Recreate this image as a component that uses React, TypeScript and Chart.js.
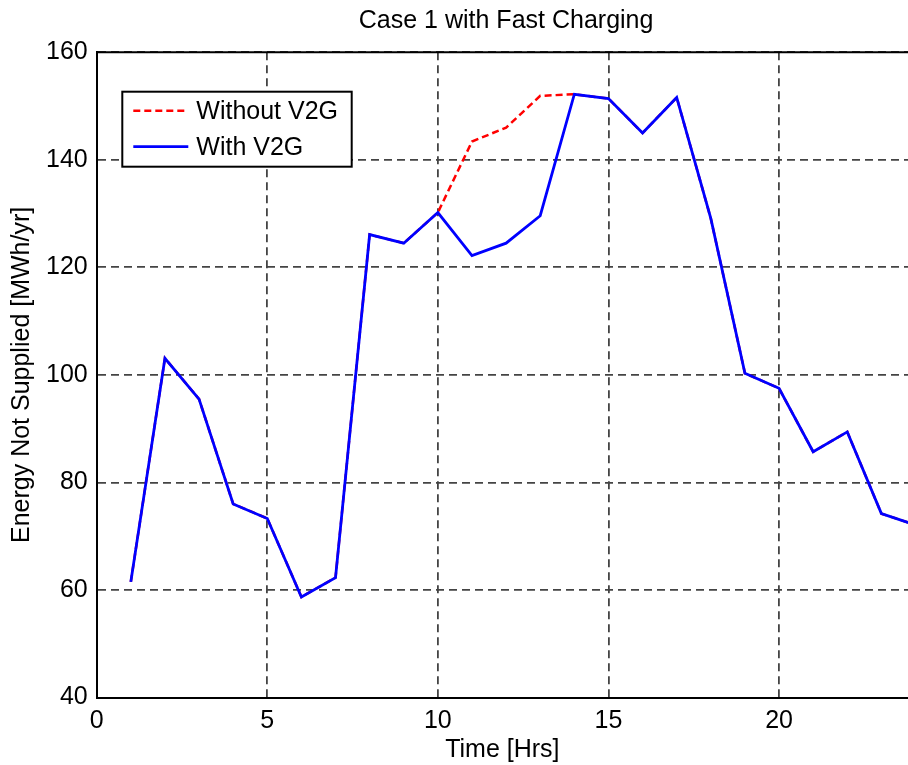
import React, { useEffect, useRef } from "react";
import { Chart, registerables } from "chart.js";

Chart.register(...registerables);

const hours = [1, 2, 3, 4, 5, 6, 7, 8, 9, 10, 11, 12, 13, 14, 15, 16, 17, 18, 19, 20, 21, 22, 23, 24];
const withoutV2G = [61.5, 103.1, 95.5, 76.0, 73.3, 58.7, 62.3, 126.1, 124.5, 130.2, 143.4, 146.0, 151.9, 152.2, 151.4, 145.0, 151.6, 129.1, 100.3, 97.5, 85.7, 89.4, 74.2, 72.1];
const withV2G = [61.5, 103.1, 95.5, 76.0, 73.3, 58.7, 62.3, 126.1, 124.5, 130.2, 122.2, 124.5, 129.6, 152.2, 151.4, 145.0, 151.6, 129.1, 100.3, 97.5, 85.7, 89.4, 74.2, 72.1];
const seriesNames = ["Without V2G", "With V2G"];
const titleText = "Case 1 with Fast Charging";
const xTitle = "Time [Hrs]";
const yTitle = "Energy Not Supplied [MWh/yr]";

const FONT = "'Liberation Sans', Arial, Helvetica, sans-serif";

const decorPlugin = {
  id: "decor",
  afterDraw(chart: any) {
    const { ctx, chartArea } = chart;
    const xs = chart.scales.x;
    ctx.save();
    // top border
    ctx.strokeStyle = "#000";
    ctx.lineWidth = 2;
    ctx.beginPath();
    ctx.moveTo(chartArea.left, chartArea.top);
    ctx.lineTo(chartArea.right, chartArea.top);
    ctx.stroke();
    // title
    ctx.fillStyle = "#000";
    ctx.font = `25px ${FONT}`;
    ctx.textAlign = "center";
    ctx.textBaseline = "middle";
    ctx.fillText(titleText, xs.getPixelForValue(12), chartArea.top - 31);
    // legend
    const lx = chartArea.left + 25.6;
    const ly = chartArea.top + 39.4;
    const lw = 229.4;
    const lh = 75;
    ctx.fillStyle = "#fff";
    ctx.fillRect(lx, ly, lw, lh);
    ctx.strokeStyle = "#000";
    ctx.lineWidth = 2;
    ctx.strokeRect(lx, ly, lw, lh);
    const ds = chart.data.datasets;
    const rows = [ly + 19, ly + 55];
    for (let i = 0; i < 2; i++) {
      const d = ds[i];
      ctx.strokeStyle = d.borderColor;
      ctx.lineWidth = d.borderWidth;
      ctx.setLineDash(d.borderDash || []);
      ctx.beginPath();
      ctx.moveTo(lx + 11, rows[i]);
      ctx.lineTo(lx + 66, rows[i]);
      ctx.stroke();
      ctx.setLineDash([]);
      ctx.fillStyle = "#000";
      ctx.textAlign = "left";
      ctx.textBaseline = "middle";
      ctx.font = `25px ${FONT}`;
      ctx.fillText(d.label, lx + 74, rows[i] + 1);
    }
    ctx.restore();
  },
};

export default function App() {
  const ref = useRef<HTMLCanvasElement | null>(null);
  useEffect(() => {
    if (!ref.current) return;
    const chart = new Chart(ref.current, {
      type: "line",
      data: {
        datasets: [
          {
            label: seriesNames[0],
            data: hours.map((h, i) => ({ x: h, y: withoutV2G[i] })),
            borderColor: "#ff0000",
            borderWidth: 2.5,
            borderDash: [7, 4],
            pointRadius: 0,
            tension: 0,
            order: 1,
          },
          {
            label: seriesNames[1],
            data: hours.map((h, i) => ({ x: h, y: withV2G[i] })),
            borderColor: "#0000ff",
            borderWidth: 2.8,
            pointRadius: 0,
            tension: 0,
            order: 0,
          },
        ],
      },
      options: {
        responsive: false,
        animation: false,
        layout: { padding: { top: 52.3, left: 0, right: 0, bottom: 0 } },
        plugins: { legend: { display: false }, title: { display: false }, tooltip: { enabled: false } },
        scales: {
          x: {
            type: "linear",
            min: 0,
            max: 23.78,
            ticks: { stepSize: 5, includeBounds: false, color: "#000", font: { size: 25, family: FONT }, padding: 9, maxRotation: 0 },
            grid: { color: "#444", lineWidth: 1.8, drawTicks: false },
            border: { display: true, color: "#000", width: 2, dash: [8, 5] },
            title: { display: true, text: xTitle, color: "#000", font: { size: 25, family: FONT }, padding: { top: 0, bottom: 0 } },
            afterFit(scale: any) {
              scale.height = 67.5;
            },
          },
          y: {
            min: 40,
            max: 160,
            ticks: { stepSize: 20, color: "#000", font: { size: 25, family: FONT }, padding: 9 },
            grid: { color: "#444", lineWidth: 1.8, drawTicks: false },
            border: { display: true, color: "#000", width: 2, dash: [8, 5] },
            title: { display: true, text: yTitle, color: "#000", font: { size: 25, family: FONT }, padding: { top: 7, bottom: 0 } },
            afterFit(scale: any) {
              scale.width = 96.7;
            },
          },
        },
      },
      plugins: [decorPlugin],
    });
    return () => chart.destroy();
  }, []);
  return (
    <div style={{ position: "absolute", left: 0, top: 0, width: 908, height: 765, background: "#fff" }}>
      <canvas ref={ref} width={908} height={765} style={{ display: "block" }} />
    </div>
  );
}
